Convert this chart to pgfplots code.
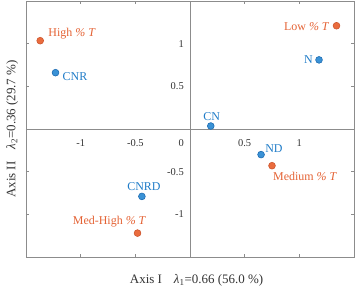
\documentclass[border=0pt]{standalone}
\usepackage{pgfplots}
\pgfplotsset{compat=1.18}
\usepackage{fontspec}
\setmainfont{Liberation Serif}
\definecolor{org}{RGB}{234,108,62}
\definecolor{orgd}{RGB}{205,85,45}
\definecolor{orgt}{RGB}{228,98,52}
\definecolor{blu}{RGB}{58,146,214}
\definecolor{blud}{RGB}{30,108,178}
\definecolor{blut}{RGB}{32,124,200}
\definecolor{frm}{RGB}{140,140,140}
\tikzset{
 tl/.style={inner sep=0pt, font=\fontsize{10.5}{12}\selectfont, text=black!80},
 pl/.style={inner sep=0pt, font=\fontsize{12}{14}\selectfont},
}
\begin{document}
\begin{tikzpicture}
\begin{axis}[
 scale only axis, width=328bp, height=256bp,
 xmin=-1.5,xmax=1.5,ymin=-1.5,ymax=1.5,
 xtick={-1,-0.5,0.5,1}, ytick={-1,-0.5,0.5,1},
 xticklabels={}, yticklabels={},
 tick align=inside, major tick length=3bp,
 axis line style={frm}, tick style={frm, line width=0.5pt},
 xlabel={Axis I\hspace{12bp}\textit{λ}\textsubscript{1}=0.66 (56.0 \%)},
 ylabel={Axis II\hspace{12bp}\textit{λ}\textsubscript{2}=0.36 (29.7 \%)},
 label style={font=\fontsize{13}{15}\selectfont, text=black!80},
 xlabel style={at={(axis description cs:0.52,-0.092)}, anchor=center},
 ylabel style={at={(axis description cs:-0.042,0.5)}, anchor=center},
 clip=false,
]
\draw[frm] (axis cs:-1.5,0) -- (axis cs:1.5,0);
\draw[frm] (axis cs:0,-1.5) -- (axis cs:0,1.5);
\node[tl, anchor=north] at (axis cs:-1,0) [yshift=-10bp] {-1};
\node[tl, anchor=north] at (axis cs:-0.5,0) [yshift=-10bp] {-0.5};
\node[tl, anchor=north] at (axis cs:0.5,0) [yshift=-10bp] {0.5};
\node[tl, anchor=north] at (axis cs:1,0) [yshift=-10bp] {1};
\node[tl, anchor=east] at (axis cs:0,-1) [xshift=-6bp] {-1};
\node[tl, anchor=east] at (axis cs:0,-0.5) [xshift=-6bp] {-0.5};
\node[tl, anchor=east] at (axis cs:0,0.5) [xshift=-6bp] {0.5};
\node[tl, anchor=east] at (axis cs:0,1) [xshift=-6bp] {1};
\node[tl, anchor=north east] at (axis cs:0,0) [xshift=-6bp, yshift=-10bp] {0};
\addplot[only marks, mark=*, mark size=3.4bp, mark options={fill=org, draw=orgd, line width=0.6pt}]
 coordinates {(-1.37,1.035) (1.34,1.21) (0.75,-0.43) (-0.48,-1.22)};
\addplot[only marks, mark=*, mark size=3.4bp, mark options={fill=blu, draw=blud, line width=0.6pt}]
 coordinates {(-1.23,0.66) (1.18,0.81) (0.19,0.035) (0.65,-0.30) (-0.44,-0.79)};
\node[pl, anchor=west, text=orgt] at (axis cs:-1.37,1.035) [xshift=8bp, yshift=7bp] {High \textit{\% T}};
\node[pl, anchor=east, text=orgt] at (axis cs:1.34,1.21) [xshift=-7bp, yshift=-1bp] {Low \textit{\% T}};
\node[pl, anchor=north west, text=orgt] at (axis cs:0.75,-0.43) [xshift=1bp, yshift=-6bp] {Medium \textit{\% T}};
\node[pl, anchor=south, text=orgt] at (axis cs:-0.48,-1.22) [xshift=-28bp, yshift=6bp] {Med-High \textit{\% T}};
\node[pl, anchor=west, text=blut] at (axis cs:-1.23,0.66) [xshift=7bp, yshift=-4bp] {CNR};
\node[pl, anchor=east, text=blut] at (axis cs:1.18,0.81) [xshift=-6bp] {N};
\node[pl, anchor=south, text=blut] at (axis cs:0.19,0.035) [xshift=1bp, yshift=5bp] {CN};
\node[pl, anchor=south west, text=blut] at (axis cs:0.65,-0.30) [xshift=4bp, yshift=2bp] {ND};
\node[pl, anchor=south, text=blut] at (axis cs:-0.44,-0.79) [xshift=2bp, yshift=6bp] {CNRD};
\end{axis}
\pgfresetboundingbox
\path ([shift={(-26bp,-30bp)}]current axis.south west) rectangle ([shift={(3bp,1bp)}]current axis.north east);
\end{tikzpicture}
\end{document}
